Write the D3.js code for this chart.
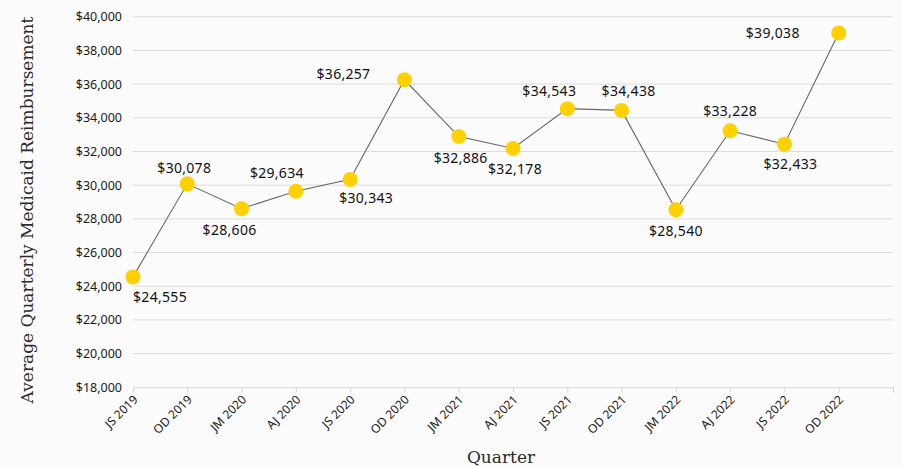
<!DOCTYPE html>
<html><head><meta charset="utf-8">
<script src="https://cdn.jsdelivr.net/npm/d3@7"></script>
<style>
html,body{margin:0;padding:0;background:#fbfbfb;}
svg{display:block;}
</style></head>
<body><svg id="c" width="902" height="467"></svg>
<script>
const categories = ["JS 2019","OD 2019","JM 2020","AJ 2020","JS 2020","OD 2020","JM 2021","AJ 2021","JS 2021","OD 2021","JM 2022","AJ 2022","JS 2022","OD 2022"];
const values = [24555,30078,28606,29634,30343,36257,32886,32178,34543,34438,28540,33228,32433,39038];
const yTicks = [18000,20000,22000,24000,26000,28000,30000,32000,34000,36000,38000,40000];
// label layout (offsets from point, px)
const labelDx = [27,-3,-12,-19,16,-34,2,2,-18,7,0,0,6,-39];
const labelDy = [20,-16,21,-18,19,-6,22,21,-18,-19,21,-20,20,0];
const labelAnchor = ["middle","middle","middle","middle","middle","end","middle","middle","middle","middle","middle","middle","middle","end"];

const svg = d3.select("#c");
const x = d3.scaleLinear().domain([0, categories.length]).range([133, 893]);
const y = d3.scaleLinear().domain([18000, 40000]).range([387.3, 16.7]);
const fmt = d3.format("$,");

// gridlines
svg.append("g").selectAll("line").data(yTicks.slice(1)).join("line")
  .attr("x1", x(0)).attr("x2", x(categories.length))
  .attr("y1", d => y(d)).attr("y2", d => y(d))
  .attr("stroke", "#dcdcdc").attr("stroke-width", 1);

// y axis
const yAxis = svg.append("g").attr("transform", `translate(${x(0)},0)`)
  .call(d3.axisLeft(y).tickValues(yTicks).tickFormat(fmt).tickSize(0).tickPadding(11));
yAxis.select(".domain").remove();
yAxis.selectAll("text").attr("font-family", "Noto Sans, sans-serif").attr("font-size", 12.5).attr("fill", "#1a1a1a");

// x axis
const xAxis = svg.append("g").attr("transform", `translate(0,${y(18000)})`)
  .call(d3.axisBottom(x).tickValues(d3.range(categories.length + 1)).tickFormat(i => categories[i] || "").tickSize(5).tickSizeOuter(0));
xAxis.select(".domain").attr("stroke", "#d6d6d6");
xAxis.selectAll(".tick line").attr("stroke", "#d6d6d6");
xAxis.selectAll("text")
  .attr("font-family", "Noto Sans, sans-serif").attr("font-size", 12).attr("fill", "#1a1a1a")
  .attr("text-anchor", "end").attr("dy", null).attr("y", 0)
  .attr("transform", "translate(5,13) rotate(-45)");

// line
const line = d3.line().x((d, i) => x(i)).y(d => y(d));
svg.append("path").datum(values).attr("d", line)
  .attr("fill", "none").attr("stroke", "#666").attr("stroke-width", 1.1);

// dots
svg.append("g").selectAll("circle").data(values).join("circle")
  .attr("cx", (d, i) => x(i)).attr("cy", d => y(d)).attr("r", 7.5)
  .attr("fill", "#FFD102");

// labels
svg.append("g").selectAll("text").data(values).join("text")
  .attr("x", (d, i) => x(i) + labelDx[i]).attr("y", (d, i) => y(d) + labelDy[i])
  .attr("dy", "0.35em").attr("text-anchor", (d, i) => labelAnchor[i])
  .attr("font-family", "Noto Sans, sans-serif").attr("font-size", 14).attr("fill", "#111")
  .attr("letter-spacing", 0.3)
  .text(d => fmt(d));

// axis titles
svg.append("text").attr("transform", "translate(33,210) rotate(-90)")
  .attr("text-anchor", "middle").attr("font-family", "DejaVu Serif, serif").attr("font-size", 17)
  .attr("fill", "#2a2a2a").text("Average Quarterly Medicaid Reimbursement");
svg.append("text").attr("x", 501).attr("y", 463)
  .attr("text-anchor", "middle").attr("font-family", "DejaVu Serif, serif").attr("font-size", 17)
  .attr("fill", "#2a2a2a").text("Quarter");
</script>
</body></html>
